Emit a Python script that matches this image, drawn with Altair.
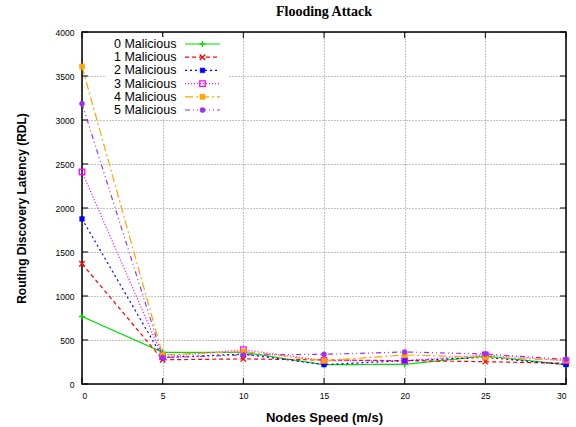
import altair as alt
import pandas as pd

speed = [0, 5, 10, 15, 20, 25, 30]
m0 = [767, 360, 360, 220, 223, 318, 220]
m1 = [1367, 275, 285, 273, 265, 254, 235]
m2 = [1876, 300, 340, 220, 265, 303, 220]
m3 = [2411, 310, 390, 265, 265, 330, 265]
m4 = [3608, 330, 370, 265, 330, 303, 270]
m5 = [3186, 300, 330, 337, 364, 341, 280]
names = ["0 Malicious", "1 Malicious", "2 Malicious", "3 Malicious", "4 Malicious", "5 Malicious"]
series = [m0, m1, m2, m3, m4, m5]

x_ticks = [0, 5, 10, 15, 20, 25, 30]
y_ticks = [0, 500, 1000, 1500, 2000, 2500, 3000, 3500, 4000]

colors = ["#00dd00", "#ff0000", "#0000ff", "#ff00ff", "#ffa500", "#9933ee"]
dashes = [[1, 0], [4, 3], [2, 3], [1, 2], [8, 3, 2, 3], [5, 3, 1, 3, 1, 3]]
shapes = ["M-1,0L1,0M0,-1L0,1", "M-1,-1L1,1M-1,1L1,-1", "square", "square", "square", "circle"]
filled = [False, False, True, False, True, True]
psize = [36, 30, 22, 30, 26, 26]

W, H = 484, 352
xs = alt.Scale(domain=[0, 30], nice=False)
ys = alt.Scale(domain=[0, 4000], nice=False)

base_x = alt.X("speed:Q", scale=xs,
               axis=alt.Axis(values=x_ticks, format="d", title="Nodes Speed (m/s)",
                             labelPadding=7, titlePadding=12, titleFontSize=13))
base_y = alt.Y("rdl:Q", scale=ys,
               axis=alt.Axis(values=y_ticks, format="d", title="Routing Discovery Latency (RDL)",
                             labelPadding=8, titlePadding=27, titleFontSize=12))

layers = []

# inward ticks on all four sides
xt = pd.DataFrame({"speed": x_ticks})
yt = pd.DataFrame({"rdl": y_ticks})
tk = 6
layers.append(alt.Chart(xt).mark_rule(color="#000", strokeWidth=1).encode(
    x=base_x, y=alt.value(H), y2=alt.value(H - tk)))
layers.append(alt.Chart(xt).mark_rule(color="#000", strokeWidth=1).encode(
    x=alt.X("speed:Q", scale=xs), y=alt.value(0), y2=alt.value(tk)))
layers.append(alt.Chart(yt).mark_rule(color="#000", strokeWidth=1).encode(
    y=base_y, x=alt.value(0), x2=alt.value(tk)))
layers.append(alt.Chart(yt).mark_rule(color="#000", strokeWidth=1).encode(
    y=alt.Y("rdl:Q", scale=ys), x=alt.value(W - tk), x2=alt.value(W)))

# key background (covers grid)
layers.append(alt.Chart(pd.DataFrame({"a": [0]})).mark_rect(fill="white").encode(
    x=alt.value(23), x2=alt.value(146), y=alt.value(5), y2=alt.value(85)))

for i, (nm, vals) in enumerate(zip(names, series)):
    df = pd.DataFrame({"speed": speed, "rdl": vals})
    c = alt.Chart(df)
    layers.append(c.mark_line(color=colors[i], strokeDash=dashes[i], strokeWidth=1.2).encode(
        x=alt.X("speed:Q", scale=xs), y=alt.Y("rdl:Q", scale=ys)))
    pt = dict(shape=shapes[i], size=psize[i], filled=filled[i], opacity=1)
    if filled[i]:
        pt.update(fill=colors[i], stroke=colors[i], strokeWidth=0.5)
    else:
        pt.update(stroke=colors[i], strokeWidth=1.3)
    layers.append(c.mark_point(**pt).encode(
        x=alt.X("speed:Q", scale=xs), y=alt.Y("rdl:Q", scale=ys)))

    # key entry
    ky = 12 + i * 13.2
    ldf = pd.DataFrame({"px": [103, 138], "py": [ky, ky], "lab": [nm, nm]})
    lc = alt.Chart(ldf)
    layers.append(lc.mark_line(color=colors[i], strokeDash=dashes[i], strokeWidth=1.2).encode(
        x=alt.X("px:Q", scale=None), y=alt.Y("py:Q", scale=None)))
    pdf = pd.DataFrame({"px": [120.5], "py": [ky], "lab": [nm]})
    pc = alt.Chart(pdf)
    layers.append(pc.mark_point(**pt).encode(
        x=alt.X("px:Q", scale=None), y=alt.Y("py:Q", scale=None)))
    layers.append(pc.mark_text(align="right", baseline="middle", fontSize=12.5,
                               font="Liberation Sans", color="#000", dx=-26).encode(
        x=alt.X("px:Q", scale=None), y=alt.Y("py:Q", scale=None), text="lab:N"))

chart = alt.layer(*layers).properties(
    width=W, height=H,
    autosize=alt.AutoSizeParams(type="none"),
    padding={"left": 82, "top": 32, "right": 10, "bottom": 43},
    title=alt.TitleParams("Flooding Attack", font="Liberation Serif", fontSize=14,
                          fontWeight="bold", offset=9, color="#000"),
).configure_view(stroke="#000", strokeWidth=1.5).configure_axis(
    labelFont="Liberation Sans", labelFontSize=8.5, labelColor="#000",
    titleFont="Liberation Sans", titleFontWeight="bold", titleColor="#000",
    grid=True, gridColor="#000", gridDash=[1, 2], gridOpacity=0.6, gridWidth=0.8,
    ticks=False, domain=False,
)

chart.save("out.html", embed_options={"renderer": "svg", "actions": False})
